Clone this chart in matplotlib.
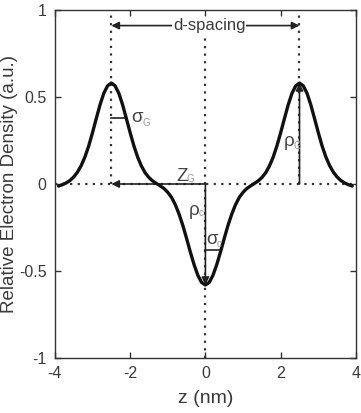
import matplotlib
matplotlib.use("Agg")
import matplotlib.pyplot as plt

plt.rcParams['font.family'] = ['Liberation Sans', 'DejaVu Sans']

# electron density profile (z in nm)
z_nm = [-3.9, -3.8, -3.7, -3.6, -3.5, -3.4, -3.3, -3.2, -3.1, -3.0,
        -2.9, -2.8, -2.7, -2.6, -2.5, -2.4, -2.3, -2.2, -2.1, -2.0,
        -1.9, -1.8, -1.7, -1.6, -1.5, -1.4, -1.3, -1.2, -1.1, -1.0,
        -0.9, -0.8, -0.7, -0.6, -0.5, -0.4, -0.3, -0.2, -0.1, 0.0,
        0.1, 0.2, 0.3, 0.4, 0.5, 0.6, 0.7, 0.8, 0.9, 1.0,
        1.1, 1.2, 1.3, 1.4, 1.5, 1.6, 1.7, 1.8, 1.9, 2.0,
        2.1, 2.2, 2.3, 2.4, 2.5, 2.6, 2.7, 2.8, 2.9, 3.0,
        3.1, 3.2, 3.3, 3.4, 3.5, 3.6, 3.7, 3.8, 3.9]
density = [-0.012, -0.004, 0.006, 0.020, 0.040, 0.068, 0.106, 0.156, 0.219, 0.295,
           0.376, 0.455, 0.521, 0.564, 0.580, 0.564, 0.521, 0.455, 0.376, 0.295,
           0.219, 0.154, 0.103, 0.064, 0.037, 0.017, 0.003, -0.011, -0.026, -0.048,
           -0.077, -0.119, -0.173, -0.238, -0.313, -0.391, -0.464, -0.525, -0.566, -0.580,
           -0.566, -0.525, -0.464, -0.391, -0.313, -0.238, -0.173, -0.119, -0.077, -0.048,
           -0.026, -0.011, 0.003, 0.017, 0.037, 0.064, 0.103, 0.154, 0.219, 0.295,
           0.376, 0.455, 0.521, 0.564, 0.580, 0.564, 0.521, 0.455, 0.376, 0.295,
           0.219, 0.156, 0.106, 0.068, 0.040, 0.020, 0.006, -0.004, -0.012]

x_ticks = [-4, -2, 0, 2, 4]
x_ticklabels = ['-4', '-2', '0', '2', '4']
y_ticks = [-1, -0.5, 0, 0.5, 1]
y_ticklabels = ['-1', '-0.5', '0', '0.5', '1']

# model parameters marked on the plot
z_g = 2.5
rho_g = 0.58
rho_c = -0.58
sigma_g_level, sigma_g_end = 0.38, -2.1
sigma_c_level, sigma_c_end = -0.38, 0.36
dspace_level = 0.91

ink = '#222222'
txt = '#3a3a3a'

fig = plt.figure(figsize=(3.61, 4.13), dpi=100)
ax = fig.add_axes([0.152, 0.133, 0.834, 0.843])

dots = dict(color='#333333', lw=1.6, ls=(0, (1, 2.4)))
ax.plot([-4, 4], [0, 0], **dots)
ax.plot([-z_g, -z_g], [0, 0.97], **dots)
ax.plot([z_g, z_g], [0, 0.97], **dots)
ax.plot([0, 0], [-1, 0.84], **dots)

ax.plot(z_nm, density, color='#111111', lw=2.4, solid_capstyle='round', zorder=5)

arr = dict(arrowstyle='-|>', mutation_scale=11, lw=1.2, color=ink, shrinkA=0, shrinkB=0)
ax.annotate('', xy=(-z_g, 0), xytext=(0, 0), arrowprops=arr)
ax.annotate('', xy=(0, rho_c), xytext=(0, 0), arrowprops=arr)
ax.annotate('', xy=(z_g, rho_g), xytext=(z_g, 0), arrowprops=arr)
dbl = dict(arr, arrowstyle='<|-|>')
ax.annotate('', xy=(z_g, dspace_level), xytext=(-z_g, dspace_level), arrowprops=dbl)
ax.text(0.1, dspace_level, 'd-spacing', fontsize=12, color=txt, ha='center', va='center',
        bbox=dict(facecolor='white', edgecolor='none', pad=0.5), zorder=6)

ax.plot([-z_g, sigma_g_end], [sigma_g_level, sigma_g_level], color=ink, lw=1.2)
ax.plot([0, sigma_c_end], [sigma_c_level, sigma_c_level], color=ink, lw=1.2)


def sub_label(x, y, main, sub, dx, dy):
    ax.text(x, y, main, fontsize=13.5, color='#444444', ha='center', va='center', zorder=6)
    ax.text(x + dx, y + dy, sub, fontsize=7, color='#999999', ha='center', va='center', zorder=6)


sub_label(-1.81, 0.38, 'σ', 'G', 0.25, -0.027)
sub_label(-0.63, 0.044, 'Z', 'G', 0.23, -0.015)
sub_label(-0.31, -0.15, 'ρ', 'c', 0.2, -0.015)
sub_label(0.165, -0.32, 'σ', 'c', 0.21, -0.025)
sub_label(2.22, 0.245, 'ρ', 'G', 0.22, -0.025)

ax.set_xlim(-4, 4)
ax.set_ylim(-1, 1)
ax.set_xticks(x_ticks)
ax.set_xticklabels(x_ticklabels)
ax.set_yticks(y_ticks)
ax.set_yticklabels(y_ticklabels)
ax.tick_params(direction='in', top=True, right=True, length=4, width=1,
               color='#333333', labelsize=11.5, labelcolor=txt, pad=6)
for s in ax.spines.values():
    s.set_color('#333333')
    s.set_linewidth(1.0)

ax.set_xlabel('z (nm)', fontsize=14, color=txt, labelpad=6)
ax.set_ylabel('Relative Electron Density (a.u.)', fontsize=13.5, color=txt, labelpad=1)

fig.savefig('out.png', dpi=100, facecolor='white')
